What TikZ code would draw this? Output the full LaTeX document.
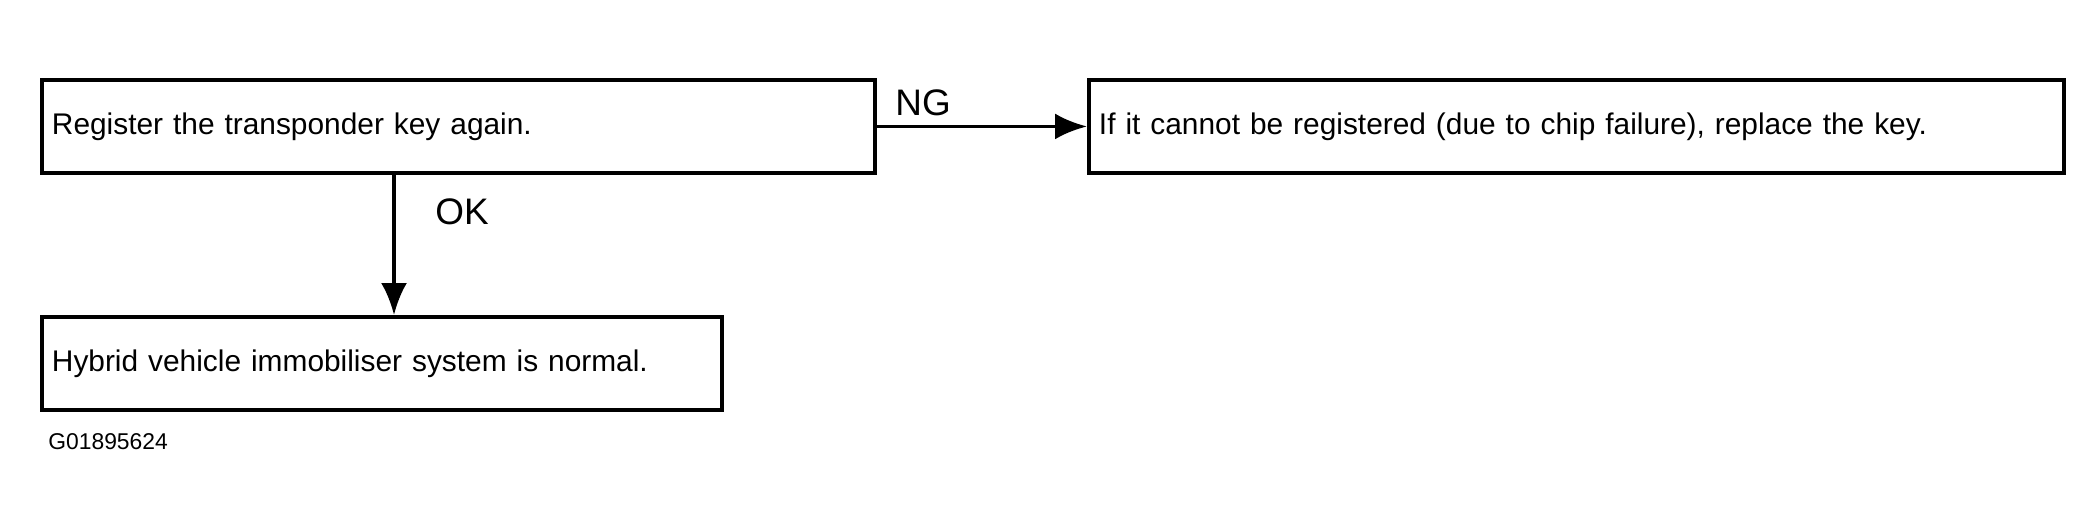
\documentclass[tikz,border=0pt]{standalone}
\usepackage{fontspec}
\setmainfont{Liberation Sans}
\usetikzlibrary{arrows.meta}
\tikzset{
  box/.style={draw, line width=1.1pt, anchor=north west, minimum height=0.93cm,
    inner xsep=0.1cm, align=left, font=\fontsize{8.5}{10}\selectfont},
  flow/.style={line width=1.1pt, -{Latex[length=0.32cm,width=0.26cm]}},
  lbl/.style={font=\fontsize{10.5}{12}\selectfont}
}
\begin{document}
\begin{tikzpicture}
            \useasboundingbox (0,0) rectangle (20.99,5.30);
            \node[box, minimum width=8.33cm, text width=8.13cm] (reg) at (0.40,4.52) {Register the transponder key again.};
            \node[box, minimum width=9.75cm, text width=9.55cm] (repl) at (10.87,4.52) {If it cannot be registered (due to chip failure), replace the key.};
            \node[box, minimum width=6.80cm, text width=6.60cm] (norm) at (0.40,2.15) {Hybrid vehicle immobiliser system is normal.};

            \draw[flow] (reg.east) -- (repl.west);
            \node[lbl, anchor=south west] (ng) at (8.83,4.02) {NG};

            \coordinate (top) at (3.94,3.59);
            \draw[flow] (top) -- (top |- norm.north);
            \node[lbl] (ok) at (4.62,3.18) {OK};

            \node[font=\fontsize{6.5}{8}\selectfont, anchor=west] (code) at (0.36,0.88) {G01895624};
\end{tikzpicture}
\end{document}
